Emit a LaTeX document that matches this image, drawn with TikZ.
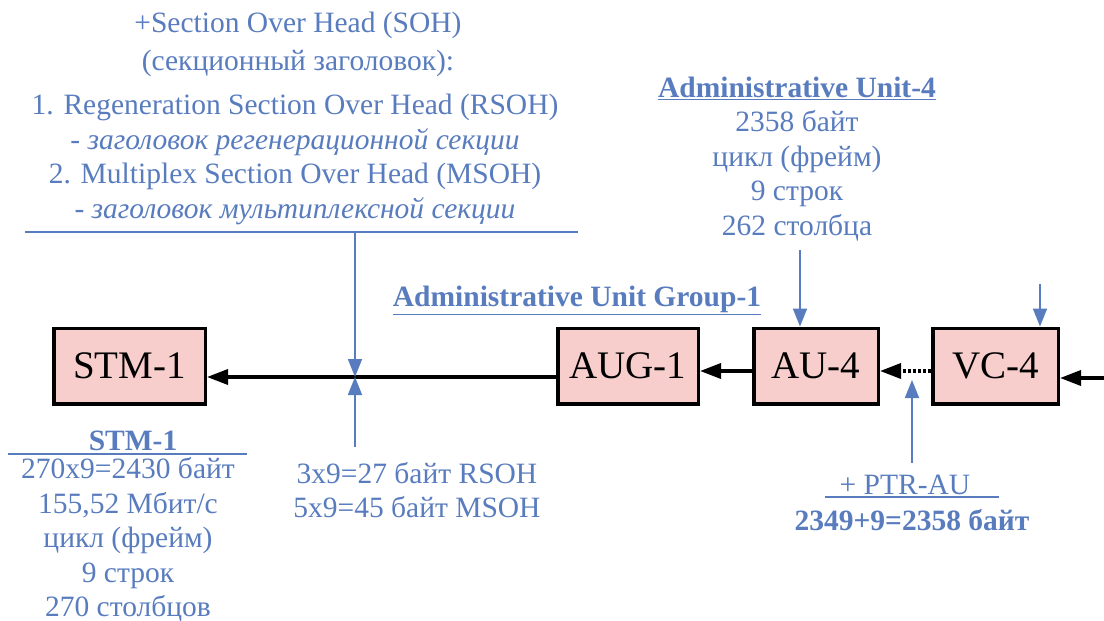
\documentclass[tikz,border=0pt]{standalone}
\usepackage{fontspec}
\setmainfont{Liberation Serif}
\usetikzlibrary{arrows.meta}
\definecolor{sdhblue}{RGB}{88,124,190}
\definecolor{boxpink}{RGB}{248,206,204}
\begin{document}
\begin{tikzpicture}[x=1pt,y=-1pt,
  unitbox/.style={draw=black,line width=3.5pt,fill=boxpink,minimum height=75.5pt,inner sep=0pt,font=\fontsize{39}{41}\selectfont},
  bluetext/.style={text=sdhblue,align=center,inner sep=0pt,font=\fontsize{29.5}{34.5}\selectfont},
  boldblue/.style={bluetext,font=\fontsize{29.5}{34.5}\selectfont\bfseries},
  flow/.style={line width=3.5pt,-{Triangle[length=21pt,width=15pt]}},
  pointer/.style={draw=sdhblue,line width=1.8pt,-{Triangle[length=18pt,width=14pt]}},
  rulestyle/.style={draw=sdhblue,line width=2pt}]
\useasboundingbox[fill=white] (0,0) rectangle (1104,621);

% boxes
\node[unitbox,minimum width=151.5pt] (stm) at (129.5,366) {STM-1};
\node[unitbox,minimum width=140.5pt] (aug) at (628,366) {AUG-1};
\node[unitbox,minimum width=124.5pt] (au) at (816,366) {AU-4};
\node[unitbox,minimum width=125.5pt] (vc) at (995.5,366) {VC-4};

% main flow
\coordinate (in) at (1104,378);
\draw[flow] (in) -- (vc.east |- in);
\draw[flow,dash pattern=on 3pt off 2pt] ([yshift=-5pt]vc.west) -- ([yshift=-5pt]au.east);
\draw[flow] ([yshift=-5pt]au.west) -- ([yshift=-5pt]aug.east);
\draw[flow] ([yshift=-11pt]aug.west) -- ([yshift=-11pt]stm.east);

% SOH pointers
\coordinate (sohtop) at (355,232);
\coordinate (sohmid) at (355,377);
\coordinate (sohbot) at (355,447);
\draw[rulestyle] (25,232) -- (578,232);
\draw[pointer] (sohtop) -- (sohmid);
\draw[pointer] (sohbot) -- (sohmid);

% AU-4 / VC-4 pointers
\coordinate (autop) at (800,250);
\draw[pointer] (autop) -- (autop |- au.north);
\coordinate (vctop) at (1040,284);
\draw[pointer] (vctop) -- (vctop |- vc.north);
\coordinate (ptrbot) at (912,463);
\coordinate (ptrtip) at (912,380);
\draw[pointer] (ptrbot) -- (ptrtip);

% texts
\node[bluetext,font=\fontsize{29.5}{38}\selectfont] (soh1) at (298,44)
  {+Section Over Head (SOH)\\(секционный заголовок):};
\node[bluetext] (soh2) at (295,159.5)
  {1. Regeneration Section Over Head (RSOH)\\- \textit{заголовок регенерационной секции}\\2. Multiplex Section Over Head (MSOH)\\- \textit{заголовок мультиплексной секции}};

\node[boldblue] (augl) at (577,300) {\underline{Administrative Unit Group-1}};

\node[bluetext] (aul) at (797,159)
  {\textbf{\underline{Administrative Unit-4}}\\2358 байт\\цикл (фрейм)\\9 строк\\262 столбца};

\node[boldblue] (stml) at (133,441) {STM-1};
\draw[rulestyle] (8,454) -- (247,454);
\node[bluetext] (stmd) at (128,540)
  {270x9=2430 байт\\155,52 Мбит/с\\цикл (фрейм)\\9 строк\\270 столбцов};

\node[bluetext] (ohl) at (417,490) {3x9=27 байт RSOH\\5x9=45 байт MSOH};

\node[bluetext] (ptrl) at (905,485) {+ PTR-AU};
\draw[rulestyle] (825,497) -- (999,497);
\node[boldblue] (ptrb) at (912,520) {2349+9=2358 байт};
\end{tikzpicture}
\end{document}
